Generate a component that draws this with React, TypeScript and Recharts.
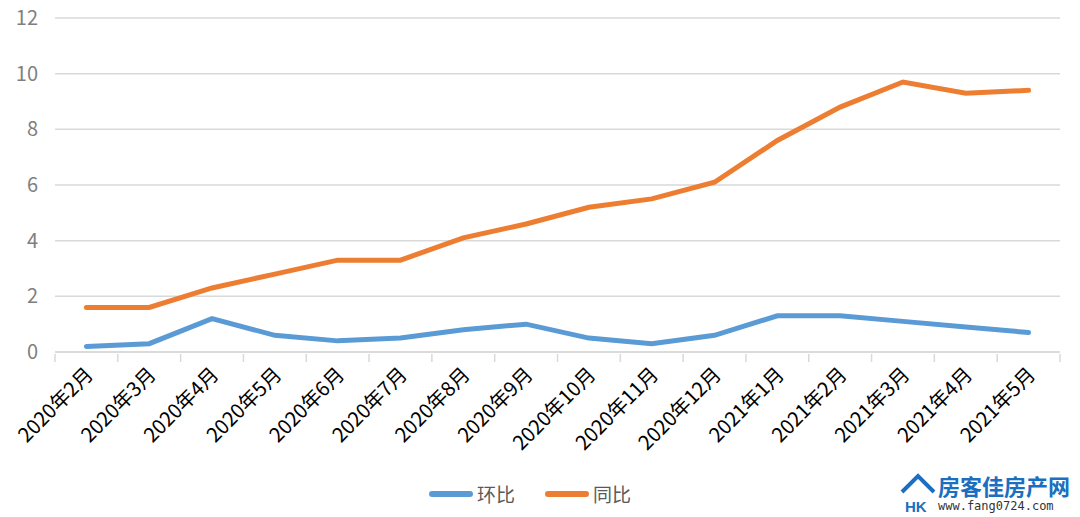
import React from 'react';
import { ComposedChart, Line, XAxis, YAxis, CartesianGrid, Legend } from 'recharts';

const months = [
  '2020年2月', '2020年3月', '2020年4月', '2020年5月', '2020年6月', '2020年7月', '2020年8月', '2020年9月',
  '2020年10月', '2020年11月', '2020年12月', '2021年1月', '2021年2月', '2021年3月', '2021年4月', '2021年5月',
];
const huanbi = [0.2, 0.3, 1.2, 0.6, 0.4, 0.5, 0.8, 1.0, 0.5, 0.3, 0.6, 1.3, 1.3, 1.1, 0.9, 0.7];
const tongbi = [1.6, 1.6, 2.3, 2.8, 3.3, 3.3, 4.1, 4.6, 5.2, 5.5, 6.1, 7.6, 8.8, 9.7, 9.3, 9.4];
const yTicks = [0, 2, 4, 6, 8, 10, 12];

const BLUE = '#5b9bd5';
const ORANGE = '#ed7d31';
const GRID = '#d9d9d9';
const FONT = '"Noto Sans CJK SC", "Noto Sans", sans-serif';

const data = months.map((m, i) => ({ month: m, huanbi: huanbi[i], tongbi: tongbi[i] }));

// band-boundary tick marks + rotated label
const MonthTick = (props: any) => {
  const { x, y, payload, index, visibleTicksCount } = props;
  const half = payload.offset || 0;
  const isLast = index === visibleTicksCount - 1;
  return (
    <g>
      <line x1={x - half} x2={x - half} y1={y - 8} y2={y} stroke={GRID} strokeWidth={1.5} />
      {isLast && <line x1={x + half} x2={x + half} y1={y - 8} y2={y} stroke={GRID} strokeWidth={1.5} />}
      <g transform={`translate(${x + 3},${y + 9})`}>
        <text
          x={0}
          y={0}
          dy="0.35em"
          textAnchor="end"
          transform="rotate(-45)"
          fill="#000"
          fontSize={20}
          fontFamily={FONT}
        >
          {payload.value}
        </text>
      </g>
    </g>
  );
};

const LegendBox = () => {
  const items = [
    { label: '环比', color: BLUE },
    { label: '同比', color: ORANGE },
  ];
  return (
    <div style={{ display: 'flex', justifyContent: 'center', gap: 30, fontFamily: FONT, paddingTop: 18 }}>
      {items.map((it) => (
        <div key={it.label} style={{ display: 'flex', alignItems: 'center' }}>
          <span style={{ display: 'inline-block', width: 44, height: 6, borderRadius: 3, background: it.color, marginRight: 4 }} />
          <span style={{ fontSize: 19, color: '#595959' }}>{it.label}</span>
        </div>
      ))}
    </div>
  );
};

export default function App() {
  return (
    <div style={{ position: 'absolute', left: 0, top: 0, width: 1080, height: 517, background: '#fff' }}>
      <ComposedChart width={1080} height={517} data={data} margin={{ top: 18, right: 20, left: 0, bottom: 0 }}>
        <CartesianGrid vertical={false} stroke={GRID} strokeWidth={1.5} />
        <XAxis
          dataKey="month"
          scale="band"
          interval={0}
          axisLine={{ stroke: GRID, strokeWidth: 1.5 }}
          tickLine={false}
          tickSize={8}
          height={110}
          tick={<MonthTick />}
        />
        <YAxis
          domain={[0, 12]}
          ticks={yTicks}
          width={55}
          axisLine={false}
          tickLine={false}
          tickSize={0}
          tickMargin={17}
          tick={{ fill: '#7f7f7f', fontSize: 20, fontFamily: FONT }}
        />
        <Legend verticalAlign="bottom" height={55} content={<LegendBox />} />
        <Line dataKey="huanbi" name="环比" stroke={BLUE} strokeWidth={5} dot={false} isAnimationActive={false} strokeLinecap="round" />
        <Line dataKey="tongbi" name="同比" stroke={ORANGE} strokeWidth={5} dot={false} isAnimationActive={false} strokeLinecap="round" />
      </ComposedChart>
      <div style={{ position: 'absolute', left: 900, top: 472, display: 'flex', alignItems: 'center', fontFamily: FONT }}>
        <svg width={36} height={42} viewBox="0 0 36 42">
          <path d="M2 20 L18 4 L34 20" fill="none" stroke="#1a6fc0" strokeWidth={4} />
          <text x={5} y={40} fontSize={15} fontWeight="bold" fill="#1a6fc0" fontFamily="sans-serif">HK</text>
        </svg>
        <div style={{ marginLeft: 2, lineHeight: 1 }}>
          <div style={{ fontSize: 22, fontWeight: 'bold', color: '#1a6fc0' }}>房客佳房产网</div>
          <div style={{ fontSize: 12, color: '#333', marginTop: 4, fontFamily: '"DejaVu Sans Mono", monospace' }}>www.fang0724.com</div>
        </div>
      </div>
    </div>
  );
}
